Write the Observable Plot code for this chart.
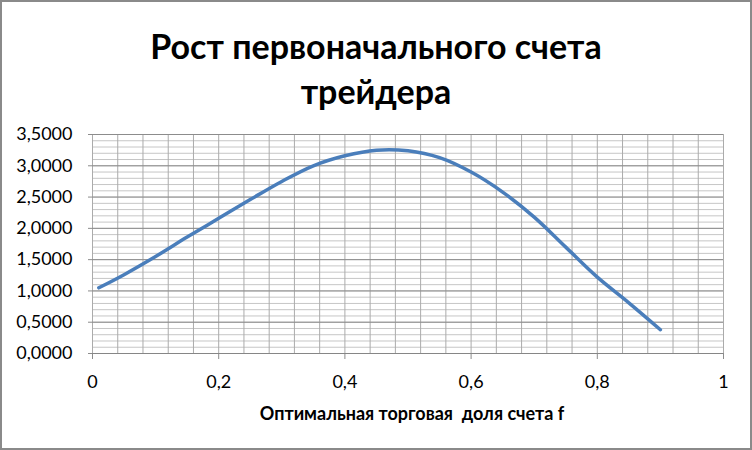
<!DOCTYPE html>
<html><head><meta charset="utf-8">
<script src="https://cdn.jsdelivr.net/npm/d3@7"></script>
<script src="https://cdn.jsdelivr.net/npm/@observablehq/plot@0.6"></script>
<style>
body{margin:0;background:#fff}
#wrap{position:relative;width:752px;height:450px;overflow:hidden;background:#fff}
#border{position:absolute;left:0;top:0;width:752px;height:450px;box-sizing:border-box;border:2px solid #8a8a8a;pointer-events:none}
#title{position:absolute;left:0;width:752px;top:23px;text-align:center;font-family:Lato,sans-serif;font-weight:bold;font-size:34px;line-height:45px;color:#000}
#xlabel{position:absolute;left:212px;width:400px;top:403px;text-align:center;font-family:Lato,sans-serif;font-weight:bold;font-size:18px;line-height:20px;white-space:pre;color:#000}
#chart{position:absolute;left:0;top:0}
</style></head>
<body>
<div id="wrap">
  <div id="chart"></div>
  <div id="title">Рост первоначального счета<br>трейдера</div>
  <div id="xlabel">Оптимальная торговая  доля счета f</div>
  <div id="border"></div>
</div>
<script>
// Data
const fraction = [0.01, 0.05, 0.10, 0.15, 0.20, 0.25, 0.30, 0.35, 0.40, 0.45, 0.50, 0.55, 0.60, 0.65, 0.70, 0.75, 0.80, 0.85, 0.90];
const growth   = [1.05, 1.26, 1.55, 1.86, 2.16, 2.46, 2.75, 3.00, 3.16, 3.25, 3.24, 3.13, 2.90, 2.58, 2.18, 1.70, 1.22, 0.81, 0.38];

const xMajorTicks = [0, 0.2, 0.4, 0.6, 0.8, 1];
const yMajorTicks = [0, 0.5, 1, 1.5, 2, 2.5, 3, 3.5];
const xMinorTicks = d3.range(0, 26).map(i => i * 0.04);
const yMinorTicks = d3.range(0, 36).map(i => i * 0.1);

const data = fraction.map((f, i) => ({f, g: growth[i]}));
const comma = s => s.replace(".", ",");

const plot = Plot.plot({
  width: 752,
  height: 450,
  marginLeft: 92,
  marginRight: 29,
  marginTop: 134,
  marginBottom: 97,
  style: {fontFamily: "Lato, sans-serif", fontSize: "18px", color: "#000", background: "transparent"},
  x: {domain: [0, 1], label: null},
  y: {domain: [0, 3.5], label: null},
  marks: [
    Plot.ruleY(yMinorTicks, {stroke: "#c6c6c6", strokeWidth: 1}),
    Plot.ruleX(xMinorTicks, {stroke: "#ababab", strokeWidth: 1}),
    Plot.ruleY(yMajorTicks, {stroke: "#8c8c8c", strokeWidth: 1}),
    Plot.axisY(yMajorTicks, {tickSize: 4, tickPadding: 16, stroke: "#8c8c8c", strokeOpacity: 1, fill: "#000", tickFormat: d => comma(d3.format(".4f")(d))}),
    Plot.axisX(xMajorTicks, {tickSize: 6, tickPadding: 16, stroke: "#8c8c8c", strokeOpacity: 1, fill: "#000", tickFormat: d => comma(String(d))}),
    Plot.ruleY([0], {stroke: "#868686", strokeWidth: 1}),
    Plot.line(data, {x: "f", y: "g", curve: "catmull-rom", stroke: "#4a7ebb", strokeWidth: 3.5, strokeLinecap: "round", strokeLinejoin: "round"})
  ]
});
document.getElementById("chart").appendChild(plot);
</script>
</body></html>
